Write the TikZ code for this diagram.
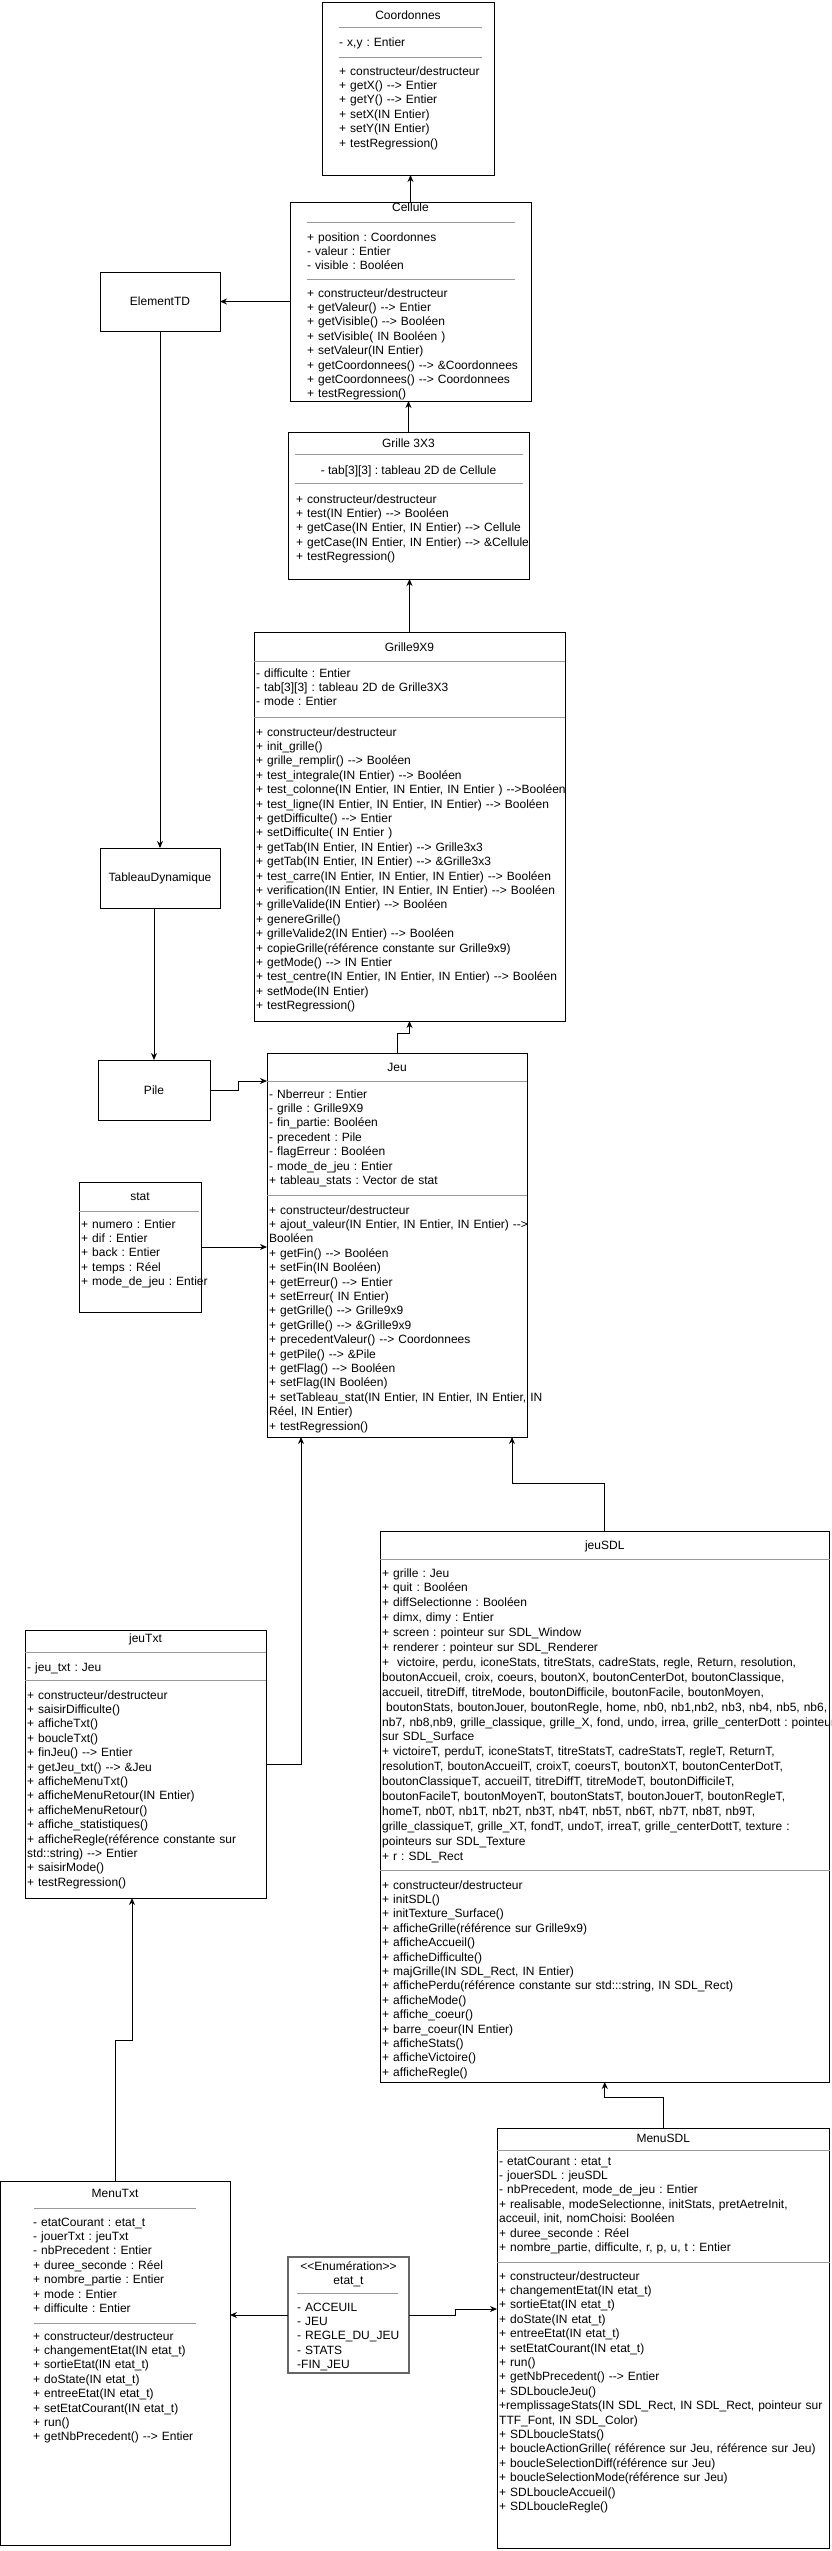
\documentclass[tikz,border=0pt]{standalone}
\usepackage{fontspec}
\newfontfamily\umlfont{Liberation Sans}
\usetikzlibrary{arrows.meta}
\definecolor{sepgray}{HTML}{999999}
\definecolor{enumgray}{HTML}{666666}
\begin{document}
\begin{tikzpicture}[x=1pt,y=-1pt,
  classbox/.style={draw,line width=1pt,anchor=north west,inner sep=0pt,outer sep=0pt},
  simplebox/.style={classbox,font=\umlfont\fontsize{12}{14.4}\selectfont},
  members/.style={anchor=base west,inner sep=0pt,text width=520pt,align=left,font=\umlfont\fontsize{12}{14.4}\selectfont\frenchspacing},
  classname/.style={anchor=base,inner sep=0pt,font=\umlfont\fontsize{12}{14.4}\selectfont\frenchspacing},
  sepline/.style={draw=sepgray,line width=1pt},
  arr/.style={line width=1pt,-{Stealth[length=7pt,width=6pt]}}]
\useasboundingbox (0,0) rectangle (831,2551);

\node[classbox,minimum width=172pt,minimum height=173pt] (coord) at (322,2) {};
\node[classname] (coordname) at (408,19) {Coordonnes};
\draw[sepline] (339,27) -- (482,27);
\node[members] (coordattr) at (339,46) {- x,y : Entier};
\draw[sepline] (339,57) -- (482,57);
\node[members] (coordmeth) at (339,75) {+ constructeur/destructeur\\+ getX() --> Entier\\+ getY() --> Entier\\+ setX(IN Entier)\\+ setY(IN Entier)\\+ testRegression()};

\node[classbox,minimum width=241pt,minimum height=199pt] (cellule) at (290,202) {};
\node[classname] (cellulename) at (410.5,211) {Cellule};
\draw[sepline] (307,222) -- (515,222);
\node[members] (celluleattr) at (307,241) {+ position : Coordonnes\\- valeur : Entier\\- visible : Booléen};
\draw[sepline] (307,279) -- (515,279);
\node[members] (cellulemeth) at (307,297) {+ constructeur/destructeur\\+ getValeur() --> Entier\\+ getVisible() --> Booléen\\+ setVisible( IN Booléen )\\+ setValeur(IN Entier)\\+ getCoordonnees() --> \&Coordonnees\\+ getCoordonnees() --> Coordonnees\\+ testRegression()};

\node[classbox,minimum width=241pt,minimum height=147pt] (grille3) at (288,432) {};
\node[classname] (grille3name) at (408.5,447) {Grille 3X3};
\draw[sepline] (295,454) -- (523,454);
\node[classname] (grille3attr) at (408.5,474) {- tab[3][3] : tableau 2D de Cellule};
\draw[sepline] (295,483) -- (523,483);
\node[members] (grille3meth) at (296,503) {+ constructeur/destructeur\\+ test(IN Entier) --> Booléen\\+ getCase(IN Entier, IN Entier) --> Cellule\\+ getCase(IN Entier, IN Entier) --> \&Cellule\\+ testRegression()};

\node[simplebox,minimum width=120pt,minimum height=59pt] (elemtd) at (100,272) {ElementTD};
\node[simplebox,minimum width=120pt,minimum height=60pt] (tabdyn) at (100,848) {TableauDynamique};
\node[simplebox,minimum width=112pt,minimum height=60pt] (pile) at (98,1060) {Pile};

\node[classbox,minimum width=311pt,minimum height=389pt] (grille9) at (254,632) {};
\node[classname] (grille9name) at (409.5,651) {Grille9X9};
\draw[sepline] (254,661) -- (565,661);
\node[members] (grille9attr) at (256,677) {- difficulte : Entier\\- tab[3][3] : tableau 2D de Grille3X3\\- mode : Entier};
\draw[sepline] (254,717) -- (565,717);
\node[members] (grille9meth) at (256,736) {+ constructeur/destructeur\\+ init\_grille()\\+ grille\_remplir() --> Booléen\\+ test\_integrale(IN Entier) --> Booléen\\+ test\_colonne(IN Entier, IN Entier, IN Entier ) -->Booléen\\+ test\_ligne(IN Entier, IN Entier, IN Entier) --> Booléen\\+ getDifficulte() --> Entier\\+ setDifficulte( IN Entier )\\+ getTab(IN Entier, IN Entier) --> Grille3x3\\+ getTab(IN Entier, IN Entier) --> \&Grille3x3\\+ test\_carre(IN Entier, IN Entier, IN Entier) --> Booléen\\+ verification(IN Entier, IN Entier, IN Entier) --> Booléen\\+ grilleValide(IN Entier) --> Booléen\\+ genereGrille()\\+ grilleValide2(IN Entier) --> Booléen\\+ copieGrille(référence constante sur Grille9x9)\\+ getMode() --> IN Entier\\+ test\_centre(IN Entier, IN Entier, IN Entier) --> Booléen\\+ setMode(IN Entier)\\+ testRegression()};

\node[classbox,minimum width=260pt,minimum height=384pt] (jeu) at (267,1053) {};
\node[classname] (jeuname) at (397,1071) {Jeu};
\draw[sepline] (267,1081) -- (527,1081);
\node[members] (jeuattr) at (269,1098) {- Nberreur : Entier\\- grille : Grille9X9\\- fin\_partie: Booléen\\- precedent : Pile\\- flagErreur : Booléen\\- mode\_de\_jeu : Entier\\+ tableau\_stats : Vector de stat};
\draw[sepline] (267,1195) -- (527,1195);
\node[members] (jeumeth) at (269,1214) {+ constructeur/destructeur\\+ ajout\_valeur(IN Entier, IN Entier, IN Entier) -->\\Booléen\\+ getFin() --> Booléen\\+ setFin(IN Booléen)\\+ getErreur() --> Entier\\+ setErreur( IN Entier)\\+ getGrille() --> Grille9x9\\+ getGrille() --> \&Grille9x9\\+ precedentValeur() --> Coordonnees\\+ getPile() --> \&Pile\\+ getFlag() --> Booléen\\+ setFlag(IN Booléen)\\+ setTableau\_stat(IN Entier, IN Entier, IN Entier, IN\\Réel, IN Entier)\\+ testRegression()};

\node[classbox,minimum width=122pt,minimum height=130pt] (stat) at (79,1182) {};
\node[classname] (statname) at (140,1200) {stat};
\draw[sepline] (79,1211) -- (199,1211);
\node[members] (statattr) at (81,1228) {+ numero : Entier\\+ dif : Entier\\+ back : Entier\\+ temps : Réel\\+ mode\_de\_jeu : Entier};

\node[classbox,minimum width=449.5pt,minimum height=551pt] (jeusdl) at (380,1531) {};
\node[classname] (jeusdlname) at (604.75,1549) {jeuSDL};
\draw[sepline] (380,1559) -- (829.5,1559);
\node[members,font=\umlfont\fontsize{12}{14.9}\selectfont\frenchspacing] (jeusdlattr) at (382,1577) {+ grille : Jeu\\+ quit : Booléen\\+ diffSelectionne : Booléen\\+ dimx, dimy : Entier\\+ screen : pointeur sur SDL\_Window\\+ renderer : pointeur sur SDL\_Renderer\\+\ \ victoire, perdu, iconeStats, titreStats, cadreStats, regle, Return, resolution,\\boutonAccueil, croix, coeurs, boutonX, boutonCenterDot, boutonClassique,\\accueil, titreDiff, titreMode, boutonDifficile, boutonFacile, boutonMoyen,\\\ boutonStats, boutonJouer, boutonRegle, home, nb0, nb1,nb2, nb3, nb4, nb5, nb6,\\nb7, nb8,nb9, grille\_classique, grille\_X, fond, undo, irrea, grille\_centerDott : pointeur\\sur SDL\_Surface\\+ victoireT, perduT, iconeStatsT, titreStatsT, cadreStatsT, regleT, ReturnT,\\resolutionT, boutonAccueilT, croixT, coeursT, boutonXT, boutonCenterDotT,\\boutonClassiqueT, accueilT, titreDiffT, titreModeT, boutonDifficileT,\\boutonFacileT, boutonMoyenT, boutonStatsT, boutonJouerT, boutonRegleT,\\homeT, nb0T, nb1T, nb2T, nb3T, nb4T, nb5T, nb6T, nb7T, nb8T, nb9T,\\grille\_classiqueT, grille\_XT, fondT, undoT, irreaT, grille\_centerDottT, texture :\\pointeurs sur SDL\_Texture\\+ r : SDL\_Rect};
\draw[sepline] (380,1870) -- (829.5,1870);
\node[members] (jeusdlmeth) at (382,1889) {+ constructeur/destructeur\\+ initSDL()\\+ initTexture\_Surface()\\+ afficheGrille(référence sur Grille9x9)\\+ afficheAccueil()\\+ afficheDifficulte()\\+ majGrille(IN SDL\_Rect, IN Entier)\\+ affichePerdu(référence constante sur std:::string, IN SDL\_Rect)\\+ afficheMode()\\+ affiche\_coeur()\\+ barre\_coeur(IN Entier)\\+ afficheStats()\\+ afficheVictoire()\\+ afficheRegle()};

\node[classbox,minimum width=241pt,minimum height=268pt] (jeutxt) at (25,1630) {};
\node[classname] (jeutxtname) at (145.5,1642) {jeuTxt};
\draw[sepline] (25,1652) -- (266,1652);
\node[members] (jeutxtattr) at (27,1671) {- jeu\_txt : Jeu};
\draw[sepline] (25,1680) -- (266,1680);
\node[members] (jeutxtmeth) at (27,1699) {+ constructeur/destructeur\\+ saisirDifficulte()\\+ afficheTxt()\\+ boucleTxt()\\+ finJeu() --> Entier\\+ getJeu\_txt() --> \&Jeu\\+ afficheMenuTxt()\\+ afficheMenuRetour(IN Entier)\\+ afficheMenuRetour()\\+ affiche\_statistiques()\\+ afficheRegle(référence constante sur\\std::string) --> Entier\\+ saisirMode()\\+ testRegression()};

\node[classbox,minimum width=229.5pt,minimum height=364pt] (menutxt) at (0.5,2181) {};
\node[classname] (menutxtname) at (115,2197) {MenuTxt};
\draw[sepline] (34,2208) -- (196,2208);
\node[members] (menutxtattr) at (33,2226) {- etatCourant : etat\_t\\- jouerTxt : jeuTxt\\- nbPrecedent : Entier\\+ duree\_seconde : Réel\\+ nombre\_partie : Entier\\+ mode : Entier\\+ difficulte : Entier};
\draw[sepline] (34,2323) -- (196,2323);
\node[members] (menutxtmeth) at (33,2340) {+ constructeur/destructeur\\+ changementEtat(IN etat\_t)\\+ sortieEtat(IN etat\_t)\\+ doState(IN etat\_t)\\+ entreeEtat(IN etat\_t)\\+ setEtatCourant(IN etat\_t)\\+ run()\\+ getNbPrecedent() --> Entier};

\node[classbox,draw=enumgray,line width=1.5pt,minimum width=121pt,minimum height=116pt] (etat) at (288,2257) {};
\node[classname] (etatstereo) at (348.5,2270) {<<Enumération>>};
\node[classname] (etatname) at (348.5,2284) {etat\_t};
\draw[sepline] (297,2293) -- (398,2293);
\node[members] (etatvals) at (297,2311) {- ACCEUIL\\- JEU\\- REGLE\_DU\_JEU\\- STATS\\-FIN\_JEU};

\node[classbox,minimum width=332.5pt,minimum height=420pt] (menusdl) at (497,2128) {};
\node[classname] (menusdlname) at (663.25,2142) {MenuSDL};
\draw[sepline] (497,2150) -- (829.5,2150);
\node[members] (menusdlattr) at (499,2165) {- etatCourant : etat\_t\\- jouerSDL : jeuSDL\\- nbPrecedent, mode\_de\_jeu : Entier\\+ realisable, modeSelectionne, initStats, pretAetreInit,\\acceuil, init, nomChoisi: Booléen\\+ duree\_seconde : Réel\\+ nombre\_partie, difficulte, r, p, u, t : Entier};
\draw[sepline] (497,2262) -- (829.5,2262);
\node[members] (menusdlmeth) at (499,2280) {+ constructeur/destructeur\\+ changementEtat(IN etat\_t)\\+ sortieEtat(IN etat\_t)\\+ doState(IN etat\_t)\\+ entreeEtat(IN etat\_t)\\+ setEtatCourant(IN etat\_t)\\+ run()\\+ getNbPrecedent() --> Entier\\+ SDLboucleJeu()\\+remplissageStats(IN SDL\_Rect, IN SDL\_Rect, pointeur sur\\TTF\_Font, IN SDL\_Color)\\+ SDLboucleStats()\\+ boucleActionGrille( référence sur Jeu, référence sur Jeu)\\+ boucleSelectionDiff(référence sur Jeu)\\+ boucleSelectionMode(référence sur Jeu)\\+ SDLboucleAccueil()\\+ SDLboucleRegle()};

\draw[arr] (cellule.north) -- (cellule.north |- coord.south);
\draw[arr] (cellule.west |- elemtd.east) -- (elemtd.east);
\draw[arr] (grille3.north) -- (grille3.north |- cellule.south);
\draw[arr] (grille9.north) -- (grille9.north |- grille3.south);
\draw[arr] (elemtd.south) -- (tabdyn.north);
\draw[arr] (tabdyn.south -| pile.north) -- (pile.north);
\draw[arr] (pile.east) -- ++(28,0) |- ([yshift=-28pt]jeu.north west);
\draw[arr] (stat.east) -- (stat.east -| jeu.west);
\draw[arr] (jeu.north) -- ++(0,-20) -| (grille9.south);
\draw[arr] (jeusdl.north) -- ++(0,-48) -| ([xshift=-15pt]jeu.south east);
\draw[arr] (jeutxt.east) -| ([xshift=34pt]jeu.south west);
\draw[arr] (menutxt.north) -- ++(0,-141) -| ([xshift=107pt]jeutxt.south west);
\draw[arr] (etat.west) -- (etat.west -| menutxt.east);
\draw[arr] (etat.east) -- ++(46,0) |- ([yshift=-181pt]menusdl.north west);
\draw[arr] (menusdl.north) -- ++(0,-31) -| (jeusdl.south);
\end{tikzpicture}
\end{document}
